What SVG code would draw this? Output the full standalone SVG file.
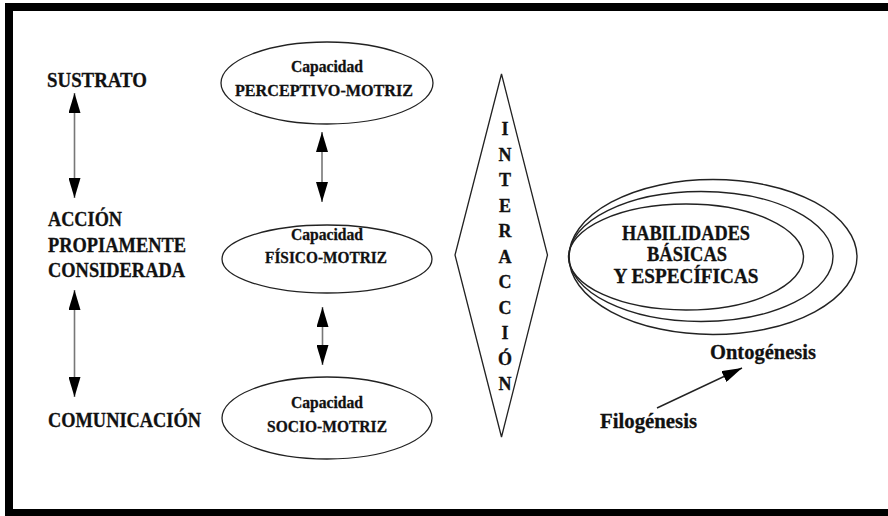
<svg xmlns="http://www.w3.org/2000/svg" width="888" height="516" viewBox="0 0 888 516">
<style>
text{font-family:'Liberation Serif','Times New Roman',serif;font-weight:700;fill:#111;stroke:#111;stroke-width:0.3;}
.lab{font-size:21px;}
.cap{font-size:16px;text-anchor:middle;}
.nm{font-size:17.5px;text-anchor:middle;}
.il{font-size:18px;text-anchor:middle;}
.hb{font-size:20px;text-anchor:middle;}
.sh{fill:#fff;stroke:#222;stroke-width:1.3;}
.rl{fill:none;stroke:#222;stroke-width:1.4;}
.ar{stroke:#777;stroke-width:1.6;fill:none;}
.ard{stroke:#222;stroke-width:1.4;fill:none;}
</style>
<defs>
<marker id="ah" viewBox="0 0 20 12" refX="20" refY="6" markerWidth="20" markerHeight="12" markerUnits="userSpaceOnUse" orient="auto-start-reverse">
<path d="M0,0 L20,6 L0,12 z" fill="#000"/>
</marker>
</defs>
<rect width="888" height="516" fill="#fff"/>
<g id="frame" fill="#000">
<rect x="5" y="3" width="883" height="8"/>
<rect x="5" y="3" width="8" height="513"/>
<rect x="5" y="509" width="883" height="7"/>
</g>
<g id="sustrato"><text class="lab" x="47" y="87" textLength="100" lengthAdjust="spacingAndGlyphs">SUSTRATO</text></g>
<g id="accion">
<text class="lab" x="48" y="226" textLength="74" lengthAdjust="spacingAndGlyphs">ACCIÓN</text>
<text class="lab" x="48" y="252" textLength="138" lengthAdjust="spacingAndGlyphs">PROPIAMENTE</text>
<text class="lab" x="48" y="277" textLength="137" lengthAdjust="spacingAndGlyphs">CONSIDERADA</text>
</g>
<g id="comunicacion"><text class="lab" x="48" y="427" textLength="153" lengthAdjust="spacingAndGlyphs">COMUNICACIÓN</text></g>
<g id="perceptivo">
<ellipse class="sh" cx="327" cy="83" rx="106" ry="41"/>
<text class="cap" x="327" y="72" textLength="72" lengthAdjust="spacingAndGlyphs">Capacidad</text>
<text class="nm" x="324" y="96" textLength="178" lengthAdjust="spacingAndGlyphs">PERCEPTIVO-MOTRIZ</text>
</g>
<g id="fisico">
<ellipse class="sh" cx="327" cy="259" rx="105" ry="34"/>
<text class="cap" x="327" y="240" textLength="72" lengthAdjust="spacingAndGlyphs">Capacidad</text>
<text class="nm" x="326" y="263" textLength="122" lengthAdjust="spacingAndGlyphs">FÍSICO-MOTRIZ</text>
</g>
<g id="socio">
<ellipse class="sh" cx="327" cy="418" rx="105" ry="41"/>
<text class="cap" x="327" y="408" textLength="72" lengthAdjust="spacingAndGlyphs">Capacidad</text>
<text class="nm" x="327" y="432" textLength="120" lengthAdjust="spacingAndGlyphs">SOCIO-MOTRIZ</text>
</g>
<g id="interaccion">
<polygon class="sh" points="501.5,74 547.5,255 501.5,437 455,255"/>
<text class="il" x="505" y="135">I</text>
<text class="il" x="505" y="160.5">N</text>
<text class="il" x="505" y="186">T</text>
<text class="il" x="505" y="211.5">E</text>
<text class="il" x="505" y="237">R</text>
<text class="il" x="505" y="262.5">A</text>
<text class="il" x="505" y="288">C</text>
<text class="il" x="505" y="313.5">C</text>
<text class="il" x="505" y="339">I</text>
<text class="il" x="505" y="364.5">Ó</text>
<text class="il" x="505" y="390">N</text>
</g>
<g id="habilidades">
<ellipse class="rl" cx="713" cy="257" rx="144" ry="77.5"/>
<ellipse class="rl" cx="701" cy="256.5" rx="132" ry="65"/>
<ellipse class="rl" cx="686" cy="257" rx="117.5" ry="53"/>
<text class="hb" x="686" y="239.5" textLength="128" lengthAdjust="spacingAndGlyphs">HABILIDADES</text>
<text class="hb" x="687" y="261" textLength="80" lengthAdjust="spacingAndGlyphs">BÁSICAS</text>
<text class="hb" x="686" y="282.5" textLength="145" lengthAdjust="spacingAndGlyphs">Y ESPECÍFICAS</text>
</g>
<g id="ontogenesis"><text class="lab" x="710" y="359" textLength="106" lengthAdjust="spacingAndGlyphs">Ontogénesis</text></g>
<g id="filogenesis"><text class="lab" x="600" y="428" textLength="97" lengthAdjust="spacingAndGlyphs">Filogénesis</text></g>
<g id="connectors">
<line class="ar" x1="74.5" y1="93" x2="74.5" y2="198" marker-start="url(#ah)" marker-end="url(#ah)"/>
<line class="ar" x1="74.5" y1="290" x2="74.5" y2="397" marker-start="url(#ah)" marker-end="url(#ah)"/>
<line class="ar" x1="322" y1="132" x2="322" y2="202" marker-start="url(#ah)" marker-end="url(#ah)"/>
<line class="ar" x1="322.5" y1="307" x2="322.5" y2="365" marker-start="url(#ah)" marker-end="url(#ah)"/>
<line class="ard" x1="657" y1="408" x2="742" y2="368" marker-end="url(#ah)"/>
</g>
</svg>
